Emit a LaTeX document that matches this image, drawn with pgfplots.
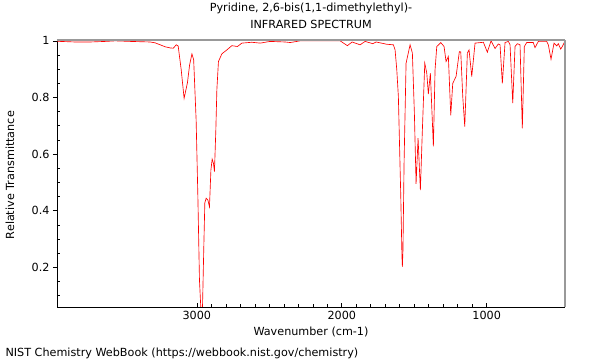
\documentclass[border=0pt]{standalone}
\usepackage{fontspec}
\setmainfont{DejaVu Sans}
\usepackage{pgfplots}
\pgfplotsset{compat=1.18}
\newcommand{\chartfont}{\fontsize{11.2bp}{17bp}\selectfont}
\begin{document}
\begin{tikzpicture}
\path[use as bounding box] (0,0) rectangle (600bp,360bp);
\begin{axis}[
  at={(57bp,53bp)}, anchor=south west,
  width=508bp, height=267bp, scale only axis,
  x dir=reverse,
  xmin=460, xmax=3965,
  ymin=0.06, ymax=1.003,
  axis x line*=bottom, axis y line*=left,
  axis line style={black, line width=0.8bp},
  xtick={1000,2000,3000},
  minor x tick num=9,
  xtick align=inside,
  x tick label style={/pgf/number format/1000 sep={}},
  ytick={0.2,0.4,0.6,0.8,1},
  yticklabels={0.2,0.4,0.6,0.8,1},
  ytick align=outside,
  extra y ticks={0.1,0.15,0.25,0.3,0.35,0.45,0.5,0.55,0.65,0.7,0.75,0.85,0.9,0.95},
  extra y tick labels={},
  extra y tick style={ytick align=inside, major tick length=3bp},
  major tick length=4bp, minor tick length=3bp,
  every tick/.style={black, line width=0.6bp},
  /pgf/number format/assume math mode=true,
  tick label style={font=\chartfont},
  xticklabel style={yshift=-1bp},
  xlabel={Wavenumber (cm-1)},
  ylabel={Relative Transmittance},
  xlabel style={font=\chartfont, at={(axis description cs:0.5,-0.094)}, anchor=center},
  ylabel style={font=\chartfont, at={(axis description cs:-0.0925,0.494)}, anchor=center, rotate=0},
  title={Pyridine, 2,6-bis(1,1-dimethylethyl)-\\INFRARED SPECTRUM},
  title style={font=\chartfont, align=center, at={(axis description cs:0.5,1.069)}, anchor=center},
  clip mode=individual,
]
\addplot[red, line width=0.65bp] coordinates {
(3963.5,0.999) (3942.8,0.998) (3839,0.996) (3736,0.996) (3632,0.998) (3563,1.0) (3460,0.998)
(3322,0.996) (3288,0.993) (3253,0.986) (3219,0.979) (3184,0.975) (3163,0.974) (3142,0.986)
(3129,0.982) (3108,0.898) (3088,0.797) (3065,0.852) (3050,0.915) (3034,0.954) (3022,0.933)
(3005,0.72) (2993,0.45) (2982,0.155) (2972,0.05) (2967,0.04) (2961,0.06) (2952,0.273)
(2945,0.428) (2936,0.444) (2924,0.438) (2913,0.414) (2903,0.544) (2894.5,0.582) (2885.5,0.568)
(2878.6,0.538) (2869,0.686) (2862,0.827) (2851,0.927) (2827.6,0.954) (2793,0.968) (2758.6,0.983)
(2720,0.980) (2689.6,0.992) (2620.7,0.995) (2563.4,0.992) (2494.4,0.998) (2391,0.996)
(2356.5,0.994) (2287.5,1.0) (2149.6,1.0) (2011.6,1.0) (1961.3,0.983) (1928.9,0.996)
(1873.7,0.986) (1839.2,0.998) (1786.1,0.99) (1763.4,0.996) (1735.8,0.993) (1689.6,0.988)
(1644,0.986) (1632.3,0.968) (1620.6,0.898) (1609.6,0.803) (1593,0.45) (1585,0.24) (1582,0.202)
(1578,0.26) (1570.3,0.569) (1556.5,0.921) (1528.9,0.986) (1513,0.957) (1499.2,0.745)
(1487.5,0.495) (1473.7,0.656) (1457.8,0.473) (1444,0.686) (1427.5,0.921) (1413.7,0.886)
(1402.7,0.812) (1388.9,0.886) (1368.1,0.627) (1356.5,0.898) (1344.7,0.98) (1317.1,0.994)
(1294.4,0.98) (1280.6,0.927) (1264.7,0.945) (1248.2,0.737) (1234.4,0.85) (1211.6,0.874)
(1188.9,0.962) (1179.2,0.961) (1165.4,0.803) (1151.6,0.697) (1133.7,0.957) (1122,0.968)
(1103.4,0.874) (1080.6,0.992) (1023.3,0.995) (995.7,0.960) (970.2,1.0) (942.6,0.973)
(919.9,0.989) (908.2,0.986) (892.3,0.85) (873.6,0.994) (850.9,0.998) (839.1,0.986)
(820.5,0.78) (804.7,0.98) (788.8,0.99) (770.2,0.986) (754.4,0.691) (740.6,0.98) (724,0.994)
(678.5,0.994) (666.7,0.976) (644,0.998) (586.1,0.998) (575,0.986) (556.4,0.935) (535.7,0.992)
(517.1,0.982) (506.1,0.99) (489.5,0.971) (478.5,0.98) (466.7,0.992) (460,1.0)
};
\draw[black!40, line width=2bp] (rel axis cs:0,1) -- (rel axis cs:1,1);
\draw[black!40, line width=1.2bp] (rel axis cs:1,1) -- (rel axis cs:1,0);
\end{axis}
\node[font=\chartfont, anchor=west] at (2bp,7bp) {NIST Chemistry WebBook (https://webbook.nist.gov/chemistry)};
\end{tikzpicture}
\end{document}
